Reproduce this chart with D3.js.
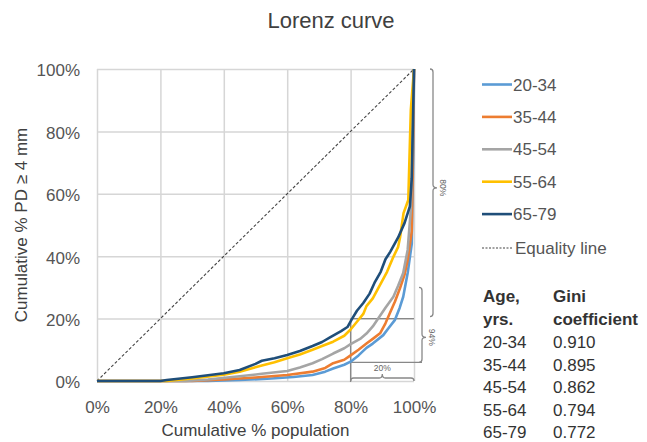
<!DOCTYPE html>
<html>
<head>
<meta charset="utf-8">
<script src="https://cdn.jsdelivr.net/npm/d3@7"></script>
<style>
  html, body { margin: 0; padding: 0; background: #fff; }
  svg { display: block; font-family: "Liberation Sans", Arial, Helvetica, sans-serif; }
</style>
</head>
<body>
<svg id="chart" width="647" height="442"></svg>
<script>
// Age groups and their colours
const ageGroups = ["20-34", "35-44", "45-54", "55-64", "65-79"];
const groupColors = ["#5b9bd5", "#ed7d31", "#a5a5a5", "#ffc000", "#1f4e79"];

// Lorenz curves: [cumulative % population, cumulative % PD >= 4 mm]
const curve2034 = [[0,0],[35,0],[45,0.3],[55,0.8],[62,1.3],[68,1.9],[72,3],[74.5,4],[78,5.2],[80,6.2],[82.5,8.2],[85,10.6],[87,12],[90.3,14.7],[92,17],[94,19.6],[95.5,23.5],[96.6,27],[98,34.6],[99.3,44],[99.8,75],[100,100]];
const curve3544 = [[0,0],[30,0],[40,0.5],[50,1.1],[60,1.9],[68,3],[72,4.2],[74.5,5.7],[78,6.8],[80,8.2],[82.5,10],[85,12],[87,13.5],[89.3,15.3],[91,18.5],[92.4,21.8],[94,25.5],[95.6,29.8],[97,34],[98,38.8],[99.3,48],[99.7,75],[100,100]];
const curve4554 = [[0,0],[28,0],[35,0.5],[45,1.5],[52,2.3],[60,3.2],[64,4.3],[68,5.7],[71,7],[74.5,8.8],[78,10.5],[80,11.8],[83,13.5],[85,15.2],[87,17.5],[88.7,20],[91,23.5],[93.5,27],[95,30.5],[96.6,34.6],[98,42],[99,55],[99.6,80],[100,100]];
const curve5564 = [[0,0],[22,0],[30,0.8],[40,2],[45,3],[52,5],[56,6],[60,7.3],[64,8.5],[68,10],[71,11.2],[74.5,12.6],[78,14.5],[80,16.5],[82,19],[84,21.5],[85,24],[87,26.5],[89.8,31.8],[91.5,35],[93.5,39.8],[95,43],[95.6,46],[96.7,53.8],[98.2,58],[99,87],[100,100]];
const curve6579 = [[0,0],[20,0],[22,0.3],[30,1.2],[40,2.5],[45,3.5],[50,5.5],[52,6.5],[56,7.3],[60,8.3],[64,9.6],[68,11.2],[71,12.5],[73.5,14],[77,16],[79,17.3],[80.5,20],[82,22.5],[84,25],[86,28],[87.7,31.8],[89.5,35],[91,39],[92.5,41.4],[95,46],[97,50.6],[98.7,56],[99.3,65],[100,100]];
const curves = [curve2034, curve3544, curve4554, curve5564, curve6579];

const equalityLine = [[0,0],[100,100]];
const giniValues = ["0.910", "0.895", "0.862", "0.794", "0.772"];

const xTicks = [0, 20, 40, 60, 80, 100];
const yTicks = [0, 20, 40, 60, 80, 100];

// Annotation values (% units)
const topShareX = 80;       // top 20% of population starts here
const shareHigh = 20;       // PD share held below 80% population, 65-79
const shareLow = 6;         // PD share held below 80% population, 20-34

const svg = d3.select("#chart");
const x = d3.scaleLinear().domain([0, 100]).range([97, 414]);
const y = d3.scaleLinear().domain([0, 100]).range([381, 69]);
const fmt = d => d + "%";

// Title
svg.append("text")
  .attr("x", 331).attr("y", 28)
  .attr("text-anchor", "middle")
  .attr("font-size", 22).attr("fill", "#404040")
  .text("Lorenz curve");

// Gridlines + tick labels
const gx = svg.append("g").attr("transform", `translate(0,${y(0)})`)
  .call(d3.axisBottom(x).tickValues(xTicks).tickFormat(fmt)
    .tickSize(-(y(0) - y(100))).tickPadding(20));
const gy = svg.append("g").attr("transform", `translate(${x(0)},0)`)
  .call(d3.axisLeft(y).tickValues(yTicks).tickFormat(fmt)
    .tickSize(-(x(100) - x(0))).tickPadding(17));
[gx, gy].forEach(g => {
  g.select(".domain").remove();
  g.selectAll(".tick line").attr("stroke", "#d6d6d6").attr("stroke-width", 1.5);
  g.selectAll(".tick text").attr("font-size", 17).attr("fill", "#555")
    .attr("font-family", "Liberation Sans, Arial, sans-serif");
});
gy.selectAll(".tick text").attr("dy", "0.4em");

// Axis titles
svg.append("text")
  .attr("x", x(50)).attr("y", 436)
  .attr("text-anchor", "middle").attr("font-size", 17).attr("fill", "#404040")
  .text("Cumulative % population");
svg.append("text")
  .attr("transform", `translate(27,${y(50)}) rotate(-90)`)
  .attr("text-anchor", "middle").attr("font-size", 17).attr("fill", "#404040")
  .text("Cumulative % PD \u2265 4 mm");

// Top-20% annotation box
const ann = svg.append("g").attr("fill", "none").attr("stroke", "#888").attr("stroke-width", 1.3);
ann.append("line").attr("x1", x(topShareX)).attr("x2", x(100))
  .attr("y1", y(shareHigh)).attr("y2", y(shareHigh));
ann.append("line").attr("x1", x(topShareX)).attr("x2", x(100) + 8)
  .attr("y1", y(shareLow)).attr("y2", y(shareLow));
ann.append("line").attr("x1", x(topShareX)).attr("x2", x(topShareX))
  .attr("y1", y(shareHigh)).attr("y2", y(0) + 1);

// Curly braces
function vBrace(xp, y1, y2, yt, w) {
  const r = 3;
  return `M${xp - r},${y1} Q${xp},${y1} ${xp},${y1 + r} L${xp},${yt - r} Q${xp},${yt} ${xp + w},${yt}` +
         ` Q${xp},${yt} ${xp},${yt + r} L${xp},${y2 - r} Q${xp},${y2} ${xp - r},${y2}`;
}
function hBrace(x1, x2, yp, xt, h) {
  const r = 3;
  return `M${x1},${yp + r} Q${x1},${yp} ${x1 + r},${yp} L${xt - r},${yp} Q${xt},${yp} ${xt},${yp - h}` +
         ` Q${xt},${yp} ${xt + r},${yp} L${x2 - r},${yp} Q${x2},${yp} ${x2},${yp + r}`;
}
ann.append("path").attr("d", vBrace(x(100) + 19, y(100), y(shareHigh) - 2, y(60) - 6, 4));
ann.append("path").attr("d", vBrace(x(100) + 8, y(30), y(shareLow), y(14), 4));
ann.append("path").attr("d", hBrace(x(topShareX), x(100), y(0) - 3, x(90), 4));

const annText = svg.append("g").attr("font-size", 8.5).attr("fill", "#666");
annText.append("text")
  .attr("transform", `translate(${x(100) + 26},${y(60) - 6}) rotate(90)`)
  .attr("text-anchor", "middle").text(fmt(100 - shareHigh));
annText.append("text")
  .attr("transform", `translate(${x(100) + 15},${y(14)}) rotate(90)`)
  .attr("text-anchor", "middle").text(fmt(100 - shareLow));
annText.append("text")
  .attr("x", x(90)).attr("y", y(0) - 10)
  .attr("text-anchor", "middle").text(fmt(100 - topShareX));

// Equality line
const line = d3.line().x(d => x(d[0])).y(d => y(d[1]));
svg.append("path").datum(equalityLine).attr("d", line)
  .attr("fill", "none").attr("stroke", "#444").attr("stroke-width", 1.1)
  .attr("stroke-dasharray", "3,2");

// Lorenz curves
curves.forEach((c, i) => {
  svg.append("path").datum(c).attr("d", line)
    .attr("fill", "none").attr("stroke", groupColors[i])
    .attr("stroke-width", 2.6).attr("stroke-linejoin", "round");
});

// Legend
const legend = svg.append("g").attr("transform", "translate(482,84.5)");
ageGroups.forEach((g, i) => {
  const row = legend.append("g").attr("transform", `translate(0,${i * 32.4})`);
  row.append("line").attr("x1", 0).attr("x2", 30).attr("stroke", groupColors[i]).attr("stroke-width", 2.6);
  row.append("text").attr("x", 31).attr("dy", "0.36em").attr("font-size", 17).attr("fill", "#555").text(g);
});
const eqRow = legend.append("g").attr("transform", `translate(0,${5 * 32.4 + 1.5})`);
eqRow.append("line").attr("x1", 0).attr("x2", 30).attr("stroke", "#444")
  .attr("stroke-width", 1.1).attr("stroke-dasharray", "2,1.5");
eqRow.append("text").attr("x", 33).attr("dy", "0.36em").attr("font-size", 17).attr("fill", "#555").text("Equality line");

// Gini table
const table = svg.append("g").attr("font-size", 17).attr("fill", "#333");
table.append("text").attr("x", 483).attr("y", 302).attr("font-weight", "bold").text("Age,");
table.append("text").attr("x", 483).attr("y", 325).attr("font-weight", "bold").text("yrs.");
table.append("text").attr("x", 553).attr("y", 302).attr("font-weight", "bold").text("Gini");
table.append("text").attr("x", 553).attr("y", 325).attr("font-weight", "bold").text("coefficient");
ageGroups.forEach((g, i) => {
  table.append("text").attr("x", 483).attr("y", 348 + i * 22.5).text(g);
  table.append("text").attr("x", 553).attr("y", 348 + i * 22.5).text(giniValues[i]);
});
</script>
</body>
</html>
